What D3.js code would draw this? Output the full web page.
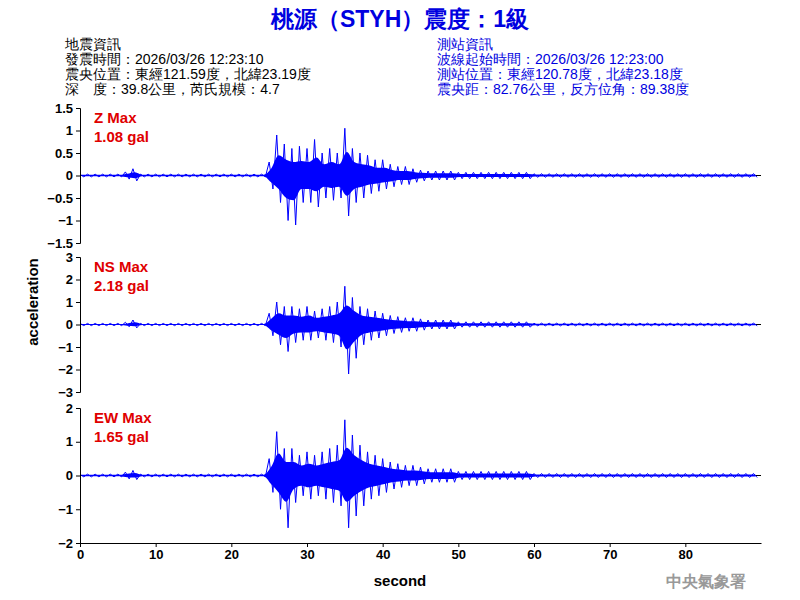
<!DOCTYPE html>
<html><head><meta charset="utf-8">
<script src="https://cdn.jsdelivr.net/npm/d3@7"></script>
<style>body{margin:0;background:#fff}text{font-family:Arial,"Liberation Sans",sans-serif}</style>
</head><body>
<script>
// header texts
var title = '桃源（STYH）震度：1級';
var leftInfo = ['地震資訊', '發震時間：2026/03/26 12:23:10', '震央位置：東經121.59度，北緯23.19度', '深　度：39.8公里，芮氏規模：4.7'];
var rightInfo = ['測站資訊', '波線起始時間：2026/03/26 12:23:00', '測站位置：東經120.78度，北緯23.18度', '震央距：82.76公里，反方位角：89.38度'];

// per-second peak envelope (gal), read from the record, t = 0..89 s
var zUp = [.03,.03,.03,.03,.03,.03,.08,.15,.03,.03,.03,.03,.03,.03,.03,.03,.03,.03,.03,.03,.03,.03,.03,.03,.03,
  .3,.9,.7,.6,.65,.6,.8,.5,.6,.5,1.05,.6,.5,.45,.35,.35,.25,.2,.2,.15,.12,.1,.1,.1,.1,
  .07,.07,.07,.07,.07,.07,.07,.07,.07,.07,.04,.04,.04,.04,.04,.04,.04,.04,.04,.04,.04,.04,.04,.04,.04,.04,.04,.04,.04,.04,.04,.04,.04,.04,.04,.04,.04,.04,.04,.04];
var zDown = [.03,.03,.03,.03,.03,.03,.08,.12,.03,.03,.03,.03,.03,.03,.03,.03,.03,.03,.03,.03,.03,.03,.03,.03,.03,
  .3,.6,1.0,1.1,.6,.6,.7,.5,.55,.5,.9,.6,.5,.4,.35,.3,.25,.2,.2,.15,.12,.1,.1,.1,.1,
  .07,.07,.07,.07,.07,.07,.07,.07,.07,.07,.04,.04,.04,.04,.04,.04,.04,.04,.04,.04,.04,.04,.04,.04,.04,.04,.04,.04,.04,.04,.04,.04,.04,.04,.04,.04,.04,.04,.04,.04];
var nsUp = [.05,.05,.05,.05,.05,.05,.1,.2,.05,.05,.05,.05,.05,.05,.05,.05,.05,.05,.05,.05,.05,.05,.05,.05,.05,
  .5,1.0,.8,.8,.7,.8,.6,.7,.8,1.0,1.7,1.2,.8,.7,.6,.5,.4,.35,.3,.3,.25,.2,.2,.2,.2,
  .12,.12,.12,.12,.12,.12,.12,.12,.12,.12,.06,.06,.06,.06,.06,.06,.06,.06,.06,.06,.06,.06,.06,.06,.06,.06,.06,.06,.06,.06,.06,.06,.06,.06,.06,.06,.06,.06,.06,.06];
var nsDown = [.05,.05,.05,.05,.05,.05,.1,.15,.05,.05,.05,.05,.05,.05,.05,.05,.05,.05,.05,.05,.05,.05,.05,.05,.05,
  .5,.9,1.2,.8,.7,.7,.6,.7,.8,1.0,2.2,1.5,.9,.7,.6,.5,.4,.35,.3,.3,.25,.2,.2,.2,.2,
  .12,.12,.12,.12,.12,.12,.12,.12,.12,.12,.06,.06,.06,.06,.06,.06,.06,.06,.06,.06,.06,.06,.06,.06,.06,.06,.06,.06,.06,.06,.06,.06,.06,.06,.06,.06,.06,.06,.06,.06];
var ewUp = [.04,.04,.04,.04,.04,.04,.1,.15,.04,.04,.04,.04,.04,.04,.04,.04,.04,.04,.04,.04,.04,.04,.04,.04,.04,
  .5,1.3,.8,.8,.6,.7,.6,.7,.8,.9,1.65,1.2,.9,.7,.6,.5,.4,.35,.3,.3,.25,.2,.2,.2,.2,
  .12,.12,.12,.12,.12,.12,.12,.12,.12,.12,.06,.06,.06,.06,.06,.06,.06,.06,.06,.06,.06,.06,.06,.06,.06,.06,.06,.06,.06,.06,.06,.06,.06,.06,.06,.06,.06,.06,.06,.06];
var ewDown = [.04,.04,.04,.04,.04,.04,.1,.12,.04,.04,.04,.04,.04,.04,.04,.04,.04,.04,.04,.04,.04,.04,.04,.04,.04,
  .5,1.0,1.55,.8,.6,.7,.6,.7,.8,.9,1.55,1.2,.9,.7,.6,.5,.4,.35,.3,.3,.25,.2,.2,.2,.2,
  .12,.12,.12,.12,.12,.12,.12,.12,.12,.12,.06,.06,.06,.06,.06,.06,.06,.06,.06,.06,.06,.06,.06,.06,.06,.06,.06,.06,.06,.06,.06,.06,.06,.06,.06,.06,.06,.06,.06,.06];

var channels = [
  { name: 'Z Max', peak: '1.08 gal', up: zUp, down: zDown, range: [-1.5, 1.5], ticks: [-1.5,-1,-0.5,0,0.5,1,1.5], top: 108, bottom: 243 },
  { name: 'NS Max', peak: '2.18 gal', up: nsUp, down: nsDown, range: [-3, 3], ticks: [-3,-2,-1,0,1,2,3], top: 257, bottom: 392 },
  { name: 'EW Max', peak: '1.65 gal', up: ewUp, down: ewDown, range: [-2, 2], ticks: [-2,-1,0,1,2], top: 408, bottom: 543 }
];
var xTicks = [0,10,20,30,40,50,60,70,80];

var svg = d3.select('body').append('svg').attr('width', 800).attr('height', 600);
var x = d3.scaleLinear().domain([0, 90]).range([80, 761]);

svg.append('text').attr('x', 400).attr('y', 27).attr('text-anchor', 'middle')
  .attr('fill', '#0000e0').attr('font-size', 23).attr('font-weight', 'bold').text(title);
leftInfo.forEach(function(s, i) {
  svg.append('text').attr('x', 65).attr('y', 49 + i * 15).attr('font-size', 14).text(s);
});
rightInfo.forEach(function(s, i) {
  svg.append('text').attr('x', 437).attr('y', 49 + i * 15).attr('font-size', 14).attr('fill', '#0000e0').text(s);
});

channels.forEach(function(c) {
  var y = d3.scaleLinear().domain(c.range).range([c.bottom, c.top]);
  var g = svg.append('g');
  g.append('line').attr('x1', x(0)).attr('x2', x(90)).attr('y1', y(0)).attr('y2', y(0)).attr('stroke', '#000');
  // zigzag between the upper and lower envelope every half second
  var pts = [];
  c.up.forEach(function(v, i) {
    pts.push([i, v]);
    pts.push([i + 0.5, -c.down[i]]);
  });
  g.append('path').attr('d', d3.line().x(function(d) { return x(d[0]); }).y(function(d) { return y(d[1]); })(pts))
    .attr('fill', 'none').attr('stroke', '#0000ff').attr('stroke-width', 1);
  var area = d3.area().x(function(d, i) { return x(i + 0.25); })
    .y0(function(d, i) { return y(-c.down[i] * 0.5); }).y1(function(d) { return y(d * 0.5); }).curve(d3.curveMonotoneX);
  g.append('path').attr('d', area(c.up)).attr('fill', '#0000ff');
  var ax = g.append('g').attr('transform', 'translate(80,0)')
    .call(d3.axisLeft(y).tickValues(c.ticks).tickSize(4).tickFormat(d3.format('')));
  ax.selectAll('text').attr('font-size', 13).attr('font-weight', 'bold').attr('fill', '#000');
  g.append('text').attr('x', 94).attr('y', c.top + 15).attr('fill', '#e00000').attr('font-size', 15).attr('font-weight', 'bold').text(c.name);
  g.append('text').attr('x', 94).attr('y', c.top + 34).attr('fill', '#e00000').attr('font-size', 15).attr('font-weight', 'bold').text(c.peak);
});

var xa = svg.append('g').attr('transform', 'translate(0,543)')
  .call(d3.axisBottom(x).tickValues(xTicks).tickSize(4).tickSizeOuter(0));
xa.selectAll('text').attr('font-size', 13).attr('font-weight', 'bold');

svg.append('text').attr('x', 400).attr('y', 586).attr('text-anchor', 'middle').attr('font-size', 15).attr('font-weight', 'bold').text('second');
svg.append('text').attr('transform', 'translate(38,302) rotate(-90)').attr('text-anchor', 'middle').attr('font-size', 15).attr('font-weight', 'bold').text('acceleration');
svg.append('text').attr('x', 746).attr('y', 587).attr('text-anchor', 'end').attr('font-size', 16).attr('font-weight', 'bold')
  .attr('fill', '#999').attr('font-family', '"Noto Serif CJK TC","Noto Sans CJK TC",serif').text('中央氣象署');
</script>
</body></html>
